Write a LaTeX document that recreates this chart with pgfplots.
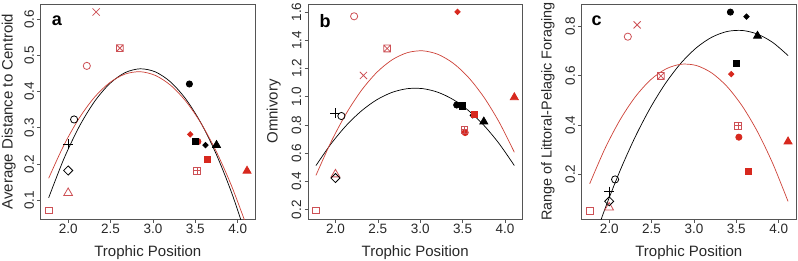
\documentclass[border=0pt]{standalone}
\usepackage{fontspec}
\setmainfont{Liberation Sans}
\usepackage{pgfplots}
\usepackage{pgfplotstable}
\pgfplotsset{compat=1.18}
\definecolor{rO}{RGB}{205,80,85}
\definecolor{rF}{RGB}{215,40,30}
\definecolor{rC}{RGB}{205,65,55}
\definecolor{axc}{RGB}{85,85,85}
\definecolor{txt}{RGB}{40,40,40}

\pgfdeclareplotmark{sqx}{%
 \pgfpathrectangle{\pgfqpoint{-\pgfplotmarksize}{-\pgfplotmarksize}}{\pgfqpoint{2\pgfplotmarksize}{2\pgfplotmarksize}}%
 \pgfpathmoveto{\pgfqpoint{-\pgfplotmarksize}{-\pgfplotmarksize}}\pgfpathlineto{\pgfqpoint{\pgfplotmarksize}{\pgfplotmarksize}}%
 \pgfpathmoveto{\pgfqpoint{-\pgfplotmarksize}{\pgfplotmarksize}}\pgfpathlineto{\pgfqpoint{\pgfplotmarksize}{-\pgfplotmarksize}}%
 \pgfusepathqstroke}
\pgfdeclareplotmark{sqplus}{%
 \pgfpathrectangle{\pgfqpoint{-\pgfplotmarksize}{-\pgfplotmarksize}}{\pgfqpoint{2\pgfplotmarksize}{2\pgfplotmarksize}}%
 \pgfpathmoveto{\pgfqpoint{-\pgfplotmarksize}{0pt}}\pgfpathlineto{\pgfqpoint{\pgfplotmarksize}{0pt}}%
 \pgfpathmoveto{\pgfqpoint{0pt}{\pgfplotmarksize}}\pgfpathlineto{\pgfqpoint{0pt}{-\pgfplotmarksize}}%
 \pgfusepathqstroke}
\pgfdeclareplotmark{bigx}{%
 \pgfpathmoveto{\pgfqpoint{-\pgfplotmarksize}{-\pgfplotmarksize}}\pgfpathlineto{\pgfqpoint{\pgfplotmarksize}{\pgfplotmarksize}}%
 \pgfpathmoveto{\pgfqpoint{-\pgfplotmarksize}{\pgfplotmarksize}}\pgfpathlineto{\pgfqpoint{\pgfplotmarksize}{-\pgfplotmarksize}}%
 \pgfusepathqstroke}
\pgfdeclareplotmark{rdia}{%
 \pgfpathmoveto{\pgfqpoint{0pt}{1.414\pgfplotmarksize}}%
 \pgfpathlineto{\pgfqpoint{1.414\pgfplotmarksize}{0pt}}%
 \pgfpathlineto{\pgfqpoint{0pt}{-1.414\pgfplotmarksize}}%
 \pgfpathlineto{\pgfqpoint{-1.414\pgfplotmarksize}{0pt}}%
 \pgfpathclose\pgfusepathqstroke}
\pgfdeclareplotmark{rdia*}{%
 \pgfpathmoveto{\pgfqpoint{0pt}{1.414\pgfplotmarksize}}%
 \pgfpathlineto{\pgfqpoint{1.414\pgfplotmarksize}{0pt}}%
 \pgfpathlineto{\pgfqpoint{0pt}{-1.414\pgfplotmarksize}}%
 \pgfpathlineto{\pgfqpoint{-1.414\pgfplotmarksize}{0pt}}%
 \pgfpathclose\pgfusepathqfillstroke}

% Trophic position (x) and the three responses per species
\pgfplotstableread{
x    a     b     c     cls
1.77 0.072 0.195 0.049 sqO
2.00 0.120 0.450 0.064 triO
2.00 0.182 0.424 0.089 diaO
2.00 0.254 0.882 0.128 plus
2.07 0.323 0.863 0.178 cirB
2.22 0.471 1.569 0.759 cirR
2.33 0.620 1.150 0.807 xR
2.61 0.520 1.341 0.599 sqxR
3.43 0.421 0.941 0.859 cirBF
3.44 0.282 1.600 0.607 diaRF
3.53 0.262 0.746 0.350 cirRF
3.50 0.262 0.934 0.651 sqBF
3.52 0.181 0.767 0.397 sqpR
3.62 0.252 0.868 0.841 diaBF
3.64 0.212 0.875 0.210 sqRF
3.75 0.252 0.823 0.762 triBF
4.11 0.181 0.995 0.332 triRF
}\pts

% fitted curves, read off the picture
\pgfplotstableread{
x    ak     ar     bk     br     ck      cr
1.77 0.1066 0.1606 0.5124 0.4430 -0.1184 0.1602
1.95 0.2146 0.2521 0.6680 0.6822 0.0579  0.3032
2.13 0.3031 0.3266 0.7976 0.8837 0.2150  0.4215
2.31 0.3722 0.3842 0.9012 1.0474 0.3531  0.5150
2.49 0.4219 0.4247 0.9790 1.1734 0.4720  0.5838
2.67 0.4522 0.4483 1.0308 1.2615 0.5719  0.6278
2.85 0.4630 0.4549 1.0568 1.3119 0.6526  0.6470
3.03 0.4543 0.4445 1.0568 1.3245 0.7142  0.6415
3.21 0.4262 0.4172 1.0308 1.2993 0.7567  0.6113
3.39 0.3787 0.3728 0.9790 1.2363 0.7800  0.5563
3.57 0.3118 0.3115 0.9012 1.1356 0.7843  0.4765
3.75 0.2254 0.2332 0.7976 0.9971 0.7694  0.3720
3.93 0.1195 0.1380 0.6680 0.8208 0.7354  0.2427
4.11 -0.0058 0.0257 0.5124 0.6067 0.6823  0.0887
}\crv

\tikzset{lett/.style={font=\fontsize{18}{18}\selectfont\bfseries, color=black}}

\pgfplotsset{
 panel/.style={
  anchor=south west, scale only axis, width=214.3pt, height=215pt,
  xmin=1.676, xmax=4.204, xtick={2,2.5,3,3.5,4},
  tick pos=left, tick align=outside, major tick length=3.5pt,
  axis line style={color=axc, line width=0.8pt},
  tick style={color=axc, line width=0.6pt},
  ticklabel style={font=\fontsize{13.5}{13.5}\selectfont, color=txt},
  /pgf/number format/.cd, fixed, fixed zerofill, precision=1, assume math mode=true,
  /pgfplots/.cd,
  yticklabel style={rotate=90, anchor=south, inner sep=0pt},
  xticklabel style={anchor=north, inner sep=0pt},
  xticklabel shift=1.5pt, yticklabel shift=3pt,
  xlabel={Trophic Position},
  every axis x label/.style={at={(axis description cs:0.5,0)}, anchor=base, yshift=-37.6pt,
     font=\fontsize{15}{15}\selectfont, color=txt},
  clip=true,
  scatter/classes={
   sqO={mark=square,mark size=3.4,draw=rO},
   triO={mark=triangle,mark size=5,draw=rO},
   diaO={mark=rdia,mark size=3.2,draw=black},
   plus={mark=+,mark size=5,draw=black},
   cirB={mark=o,mark size=3.6,draw=black},
   cirR={mark=o,mark size=3.6,draw=rO},
   xR={mark=bigx,mark size=3.6,draw=rO},
   sqxR={mark=sqx,mark size=3.4,draw=rO},
   cirBF={mark=*,mark size=3.1,draw=black,fill=black},
   diaRF={mark=rdia*,mark size=1.9,draw=rF,fill=rF},
   sqBF={mark=square*,mark size=3.2,draw=black,fill=black},
   sqpR={mark=sqplus,mark size=3.4,draw=rO},
   cirRF={mark=*,mark size=3.1,draw=rF,fill=rF},
   diaBF={mark=rdia*,mark size=1.9,draw=black,fill=black},
   sqRF={mark=square*,mark size=3.2,draw=rF,fill=rF},
   triBF={mark=triangle*,mark size=4.6,draw=black,fill=black},
   triRF={mark=triangle*,mark size=4.6,draw=rF,fill=rF}},
 },
 ylab/.style 2 args={every axis y label/.style={at={(axis description cs:#1,0.5)}, anchor=base, rotate=90,
     font=\fontsize{#2}{#2}\selectfont, color=txt}},
 pts/.style={scatter, only marks, scatter src=explicit symbolic, mark options={line width=0.8pt}},
 kc/.style={black, line width=0.7pt, smooth, no marks},
 rc/.style={rC, line width=0.7pt, smooth, no marks},
}

\begin{document}
\begin{tikzpicture}
\useasboundingbox (0pt,0pt) rectangle (798pt,260pt);

\begin{axis}[panel, at={(40.7pt,41pt)}, ymin=0.048, ymax=0.642,
  ytick={0.1,0.2,0.3,0.4,0.5,0.6},
  ylabel={Average Distance to Centroid}, ylab={-0.1307}{15}]
\addplot[pts] table[x=x, y=a, meta=cls] {\pts};
\addplot[kc] table[x=x, y=ak] {\crv};
\addplot[rc] table[x=x, y=ar] {\crv};
\node[lett] at (rel axis cs:0.076,0.921) {a};
\end{axis}

\begin{axis}[panel, at={(308pt,41pt)}, ymin=0.134, ymax=1.656,
  ytick={0.2,0.4,0.6,0.8,1.0,1.2,1.4,1.6},
  ylabel={Omnivory}, ylab={-0.1414}{15}]
\addplot[pts] table[x=x, y=b, meta=cls] {\pts};
\addplot[kc] table[x=x, y=bk] {\crv};
\addplot[rc] table[x=x, y=br] {\crv};
\node[lett] at (rel axis cs:0.08,0.921) {b};
\end{axis}

\begin{axis}[panel, at={(581.7pt,41pt)}, ymin=0.017, ymax=0.892,
  ytick={0.2,0.4,0.6,0.8},
  ylabel={Range of Littoral-Pelagic Foraging}, ylab={-0.14}{14.4}]
\addplot[pts] table[x=x, y=c, meta=cls] {\pts};
\addplot[kc] table[x=x, y=ck] {\crv};
\addplot[rc] table[x=x, y=cr] {\crv};
\node[lett] at (rel axis cs:0.07,0.921) {c};
\end{axis}
\end{tikzpicture}
\end{document}
